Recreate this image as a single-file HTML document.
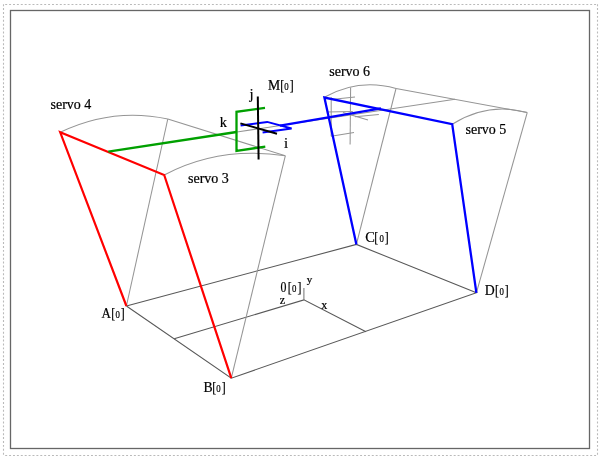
<!DOCTYPE html>
<html><head><meta charset="utf-8">
<style>
html,body{margin:0;padding:0;background:#fff;width:605px;height:462px;overflow:hidden}
svg{display:block;will-change:transform}
text{font-family:"Liberation Serif",serif;fill:#000;stroke:#000;stroke-width:0.22px}
.s{font-size:14px}
</style></head><body>
<svg width="605" height="462" viewBox="0 0 605 462">
<!-- borders -->
<g stroke="#bababa" stroke-width="1.1" stroke-dasharray="1.95 1.95" fill="none">
<line x1="5.2" y1="4.5" x2="597" y2="4.5"/>
<line x1="5.2" y1="455.5" x2="597" y2="455.5"/>
<line x1="3.5" y1="4.2" x2="3.5" y2="455"/>
<line x1="597.5" y1="4.2" x2="597.5" y2="455"/>
</g>
<rect x="10.5" y="10.5" width="579" height="438" fill="none" stroke="#666" stroke-width="1.3"/>

<!-- floor (dark grey) -->
<g fill="none" stroke="#585858" stroke-width="1.05">
<polyline points="126.4,306 231.3,378.2 476.4,292.8 356.4,244.4 126.4,306"/>
<polyline points="174.2,338.8 303.9,299.9 366,331.7"/>
<line x1="303.9" y1="299.9" x2="303.9" y2="288" stroke="#777"/>
</g>

<!-- pillars / arcs (light grey) -->
<g fill="none" stroke="#959595" stroke-width="1.05">
<line x1="126.4" y1="306" x2="167.8" y2="119"/>
<line x1="231.3" y1="378.2" x2="285.3" y2="155.8"/>
<line x1="356.4" y1="244.4" x2="396" y2="88.5"/>
<line x1="476.4" y1="292.8" x2="527.2" y2="112.6"/>
<path d="M60.2,132.3 Q112.2,107.2 167.8,119"/>
<path d="M164.2,175 Q219,145.8 285.3,155.8"/>
<path d="M324.3,97.3 Q358.5,78 396,88.5"/>
<path d="M452.2,124.2 Q488.4,101.7 527.2,112.6"/>
<line x1="167.8" y1="119" x2="285.3" y2="155.8"/>
<line x1="396" y1="88.5" x2="527.2" y2="112.6"/>
<line x1="237" y1="132" x2="455" y2="99.3"/>
<!-- ghost frame near servo 6 -->
<line x1="350.6" y1="87.4" x2="350.1" y2="144.4"/>
<line x1="331.2" y1="97.3" x2="331.2" y2="136.2"/>
<line x1="331.2" y1="99.5" x2="355" y2="96.9"/>
<line x1="331.2" y1="136.2" x2="354" y2="132.5"/>
<line x1="326.9" y1="112" x2="352.8" y2="111.4"/>
<line x1="343" y1="112.4" x2="368" y2="120"/>
<line x1="355" y1="116.8" x2="378.8" y2="114.6"/>
</g>

<!-- red -->
<polyline points="126.4,306 60.2,132.3 164.2,175 231.3,378.2" fill="none" stroke="#f00" stroke-width="2.2"/>
<!-- blue -->
<polyline points="356.4,244.4 324.4,97.6 452.2,124.2 476.4,292.8" fill="none" stroke="#00f" stroke-width="2.3"/>
<line x1="280" y1="125.6" x2="381" y2="108.4" stroke="#00f" stroke-width="2.1"/>
<polyline points="240.6,125.6 267.2,121.9 291.6,128.5 262.6,132.5" fill="none" stroke="#00f" stroke-width="2"/>
<!-- green -->
<line x1="108.3" y1="151.6" x2="236.5" y2="132" stroke="#00a000" stroke-width="2.3"/>
<polyline points="265,107.9 236.5,111.8 236.5,150.9 265.3,146.6" fill="none" stroke="#00a000" stroke-width="2.3"/>
<!-- black axes -->
<line x1="257.8" y1="96.4" x2="258.6" y2="159.6" stroke="#000" stroke-width="2"/>
<line x1="240.4" y1="123.4" x2="277" y2="133.8" stroke="#000" stroke-width="2"/>

<!-- labels -->
<text class="s" x="50.5" y="108.7">servo 4</text>
<text class="s" x="188" y="183">servo 3</text>
<text class="s" x="329.3" y="75.8">servo 6</text>
<text class="s" x="465.5" y="134.3">servo 5</text>

<text transform="translate(101.57,317.80) scale(0.906,1)" style="font-size:14.4px">A</text>
<text transform="translate(111.30,317.80) scale(0.8,1)" style="font-size:14.8px">[</text>
<text transform="translate(115.40,317.80) scale(0.78,1)" style="font-size:11.3px">0</text>
<text transform="translate(120.70,317.80) scale(0.8,1)" style="font-size:14.8px">]</text>
<text transform="translate(203.61,391.80) scale(0.954,1)" style="font-size:14.4px">B</text>
<text transform="translate(212.15,391.80) scale(0.8,1)" style="font-size:14.8px">[</text>
<text transform="translate(216.25,391.80) scale(0.78,1)" style="font-size:11.3px">0</text>
<text transform="translate(221.80,391.80) scale(0.8,1)" style="font-size:14.8px">]</text>
<text x="365.20" y="242.40" style="font-size:14.4px">C</text>
<text transform="translate(374.15,242.40) scale(0.8,1)" style="font-size:14.8px">[</text>
<text transform="translate(379.40,242.40) scale(0.78,1)" style="font-size:11.3px">0</text>
<text transform="translate(384.80,242.40) scale(0.8,1)" style="font-size:14.8px">]</text>
<text transform="translate(484.80,295.40) scale(0.957,1)" style="font-size:14.4px">D</text>
<text transform="translate(494.95,295.40) scale(0.8,1)" style="font-size:14.8px">[</text>
<text transform="translate(499.60,295.40) scale(0.78,1)" style="font-size:11.3px">0</text>
<text transform="translate(504.85,295.40) scale(0.8,1)" style="font-size:14.8px">]</text>
<text transform="translate(268.00,90.30) scale(0.953,1)" style="font-size:14.4px">M</text>
<text transform="translate(280.25,90.30) scale(0.8,1)" style="font-size:14.8px">[</text>
<text transform="translate(284.35,90.30) scale(0.78,1)" style="font-size:11.3px">0</text>
<text transform="translate(289.70,90.30) scale(0.8,1)" style="font-size:14.8px">]</text>
<text transform="translate(280.52,291.90) scale(0.85,1)" style="font-size:14.0px">0</text>
<text transform="translate(287.75,291.90) scale(0.8,1)" style="font-size:14.8px">[</text>
<text transform="translate(291.95,291.90) scale(0.78,1)" style="font-size:11.3px">0</text>
<text transform="translate(297.60,291.90) scale(0.8,1)" style="font-size:14.8px">]</text>
<text x="249.41" y="99.00" style="font-size:14.6px">j</text>
<text x="219.76" y="127.00" style="font-size:14.4px">k</text>
<text x="283.88" y="147.60" style="font-size:14.8px">i</text>
<text x="306.7" y="282.7" style="font-size:11px">y</text>
<text x="279.84" y="303.70" style="font-size:12px">z</text>
<text x="321.17" y="308.80" style="font-size:12px">x</text>
</svg>
</body></html>
